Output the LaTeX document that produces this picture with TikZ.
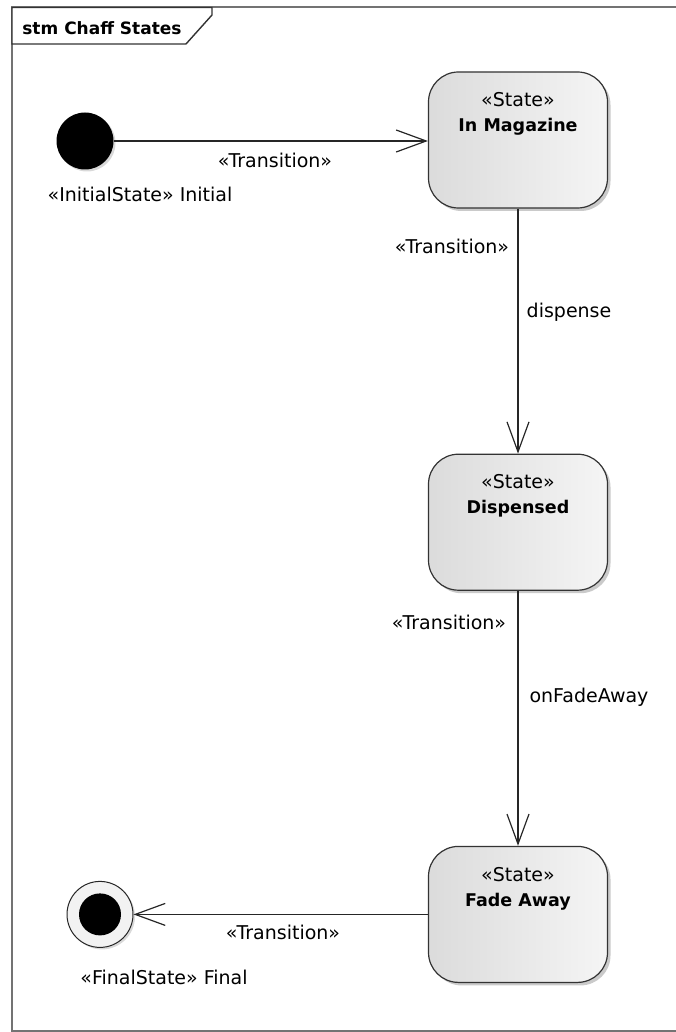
\documentclass[tikz,border=0pt]{standalone}
\usepackage{fontspec}
\setmainfont{DejaVu Sans}
\usepackage{xcolor}
\usetikzlibrary{positioning, shadows}
\usetikzlibrary{arrows.meta}
\tikzset{>={Straight Barb[length=30pt,width=22pt]}}

\begin{document}
\begin{tikzpicture}[x=1pt, y=-1pt, state/.style={rounded corners=30pt, draw=black!80, line width=1.2pt, left color=black!14, right color=black!4, minimum width=179pt, minimum height=136pt, drop shadow={shadow xshift=3pt, shadow yshift=-3pt, opacity=0.35, fill=black!60}}, statetext/.style={anchor=north, inner sep=0pt, align=center, yshift=-21pt, font=\fontsize{19}{25}\selectfont}, emptynode/.style={draw=none, fill=none, inner sep=0pt, font=\fontsize{19}{23}\selectfont}, initnode/.style={circle, fill=black, inner sep=0pt, minimum size=57pt, drop shadow={shadow xshift=2pt, shadow yshift=-2pt, opacity=0.3}}, finalnode/.style={circle, draw=black!85, line width=1pt, fill=black!5, inner sep=0pt, minimum size=66pt, drop shadow={shadow xshift=2pt, shadow yshift=-2pt, opacity=0.3}}, trans/.style={->, line width=1.2pt, black!85}]

    \useasboundingbox (0,0) rectangle (675,1032);

    %Frame
    \draw[line width=2pt, black!55] (12,7.5) rectangle (700,1031);
    \draw[line width=1.4pt, black!80, fill=white] (12,7.5) -- (212,7.5) -- (212,15) -- (186,44) -- (12,44) -- cycle;
    \node[emptynode, font=\fontsize{17}{20}\selectfont\bfseries](title) at (102,28){stm Chaff States};

    %Nodes
    \node[state, label={[statetext, name=magazine_text]north:{«State»\\{\fontsize{17.5}{25}\selectfont\bfseries In Magazine}}}](magazine) at (518,140){};
    \node[state, label={[statetext, name=dispensed_text]north:{«State»\\{\fontsize{17.5}{25}\selectfont\bfseries Dispensed}}}](dispensed)[below=245pt of magazine]{};
    \node[state, label={[statetext, name=fade_text]north:{«State»\\{\fontsize{17.5}{25}\selectfont\bfseries Fade Away}}}](fade)[below=255pt of dispensed]{};

    \coordinate (final_pos) at (100,0);
    \node[initnode](initial) at (85,141){};
    \node[finalnode](final) at (fade -| final_pos){};
    \node[circle, fill=black, inner sep=0pt, minimum size=42pt](final_dot) at (final){};

    \node[emptynode](initial_text) at (140,194){«InitialState» Initial};
    \node[emptynode](final_text) at (164,977){«FinalState» Final};

    \node[emptynode](trans_start_text) at (275,160){«Transition»};
    \node[emptynode](trans_mag_text) at (452,246){«Transition»};
    \node[emptynode](dispense_text) at (569,312){dispense};
    \node[emptynode](trans_disp_text) at (449,622){«Transition»};
    \node[emptynode](fade_away_text) at (589,697){onFadeAway};
    \node[emptynode](trans_fade_text) at (283,932){«Transition»};

    %Lines
    \draw[trans] (initial.east) -- (initial.east -| magazine.west);
    \draw[trans] (magazine.south) -- (dispensed.north);
    \draw[trans] (dispensed.south) -- (fade.north);
    \draw[trans] (fade.west) -- (final.east);

\end{tikzpicture}
\end{document}
